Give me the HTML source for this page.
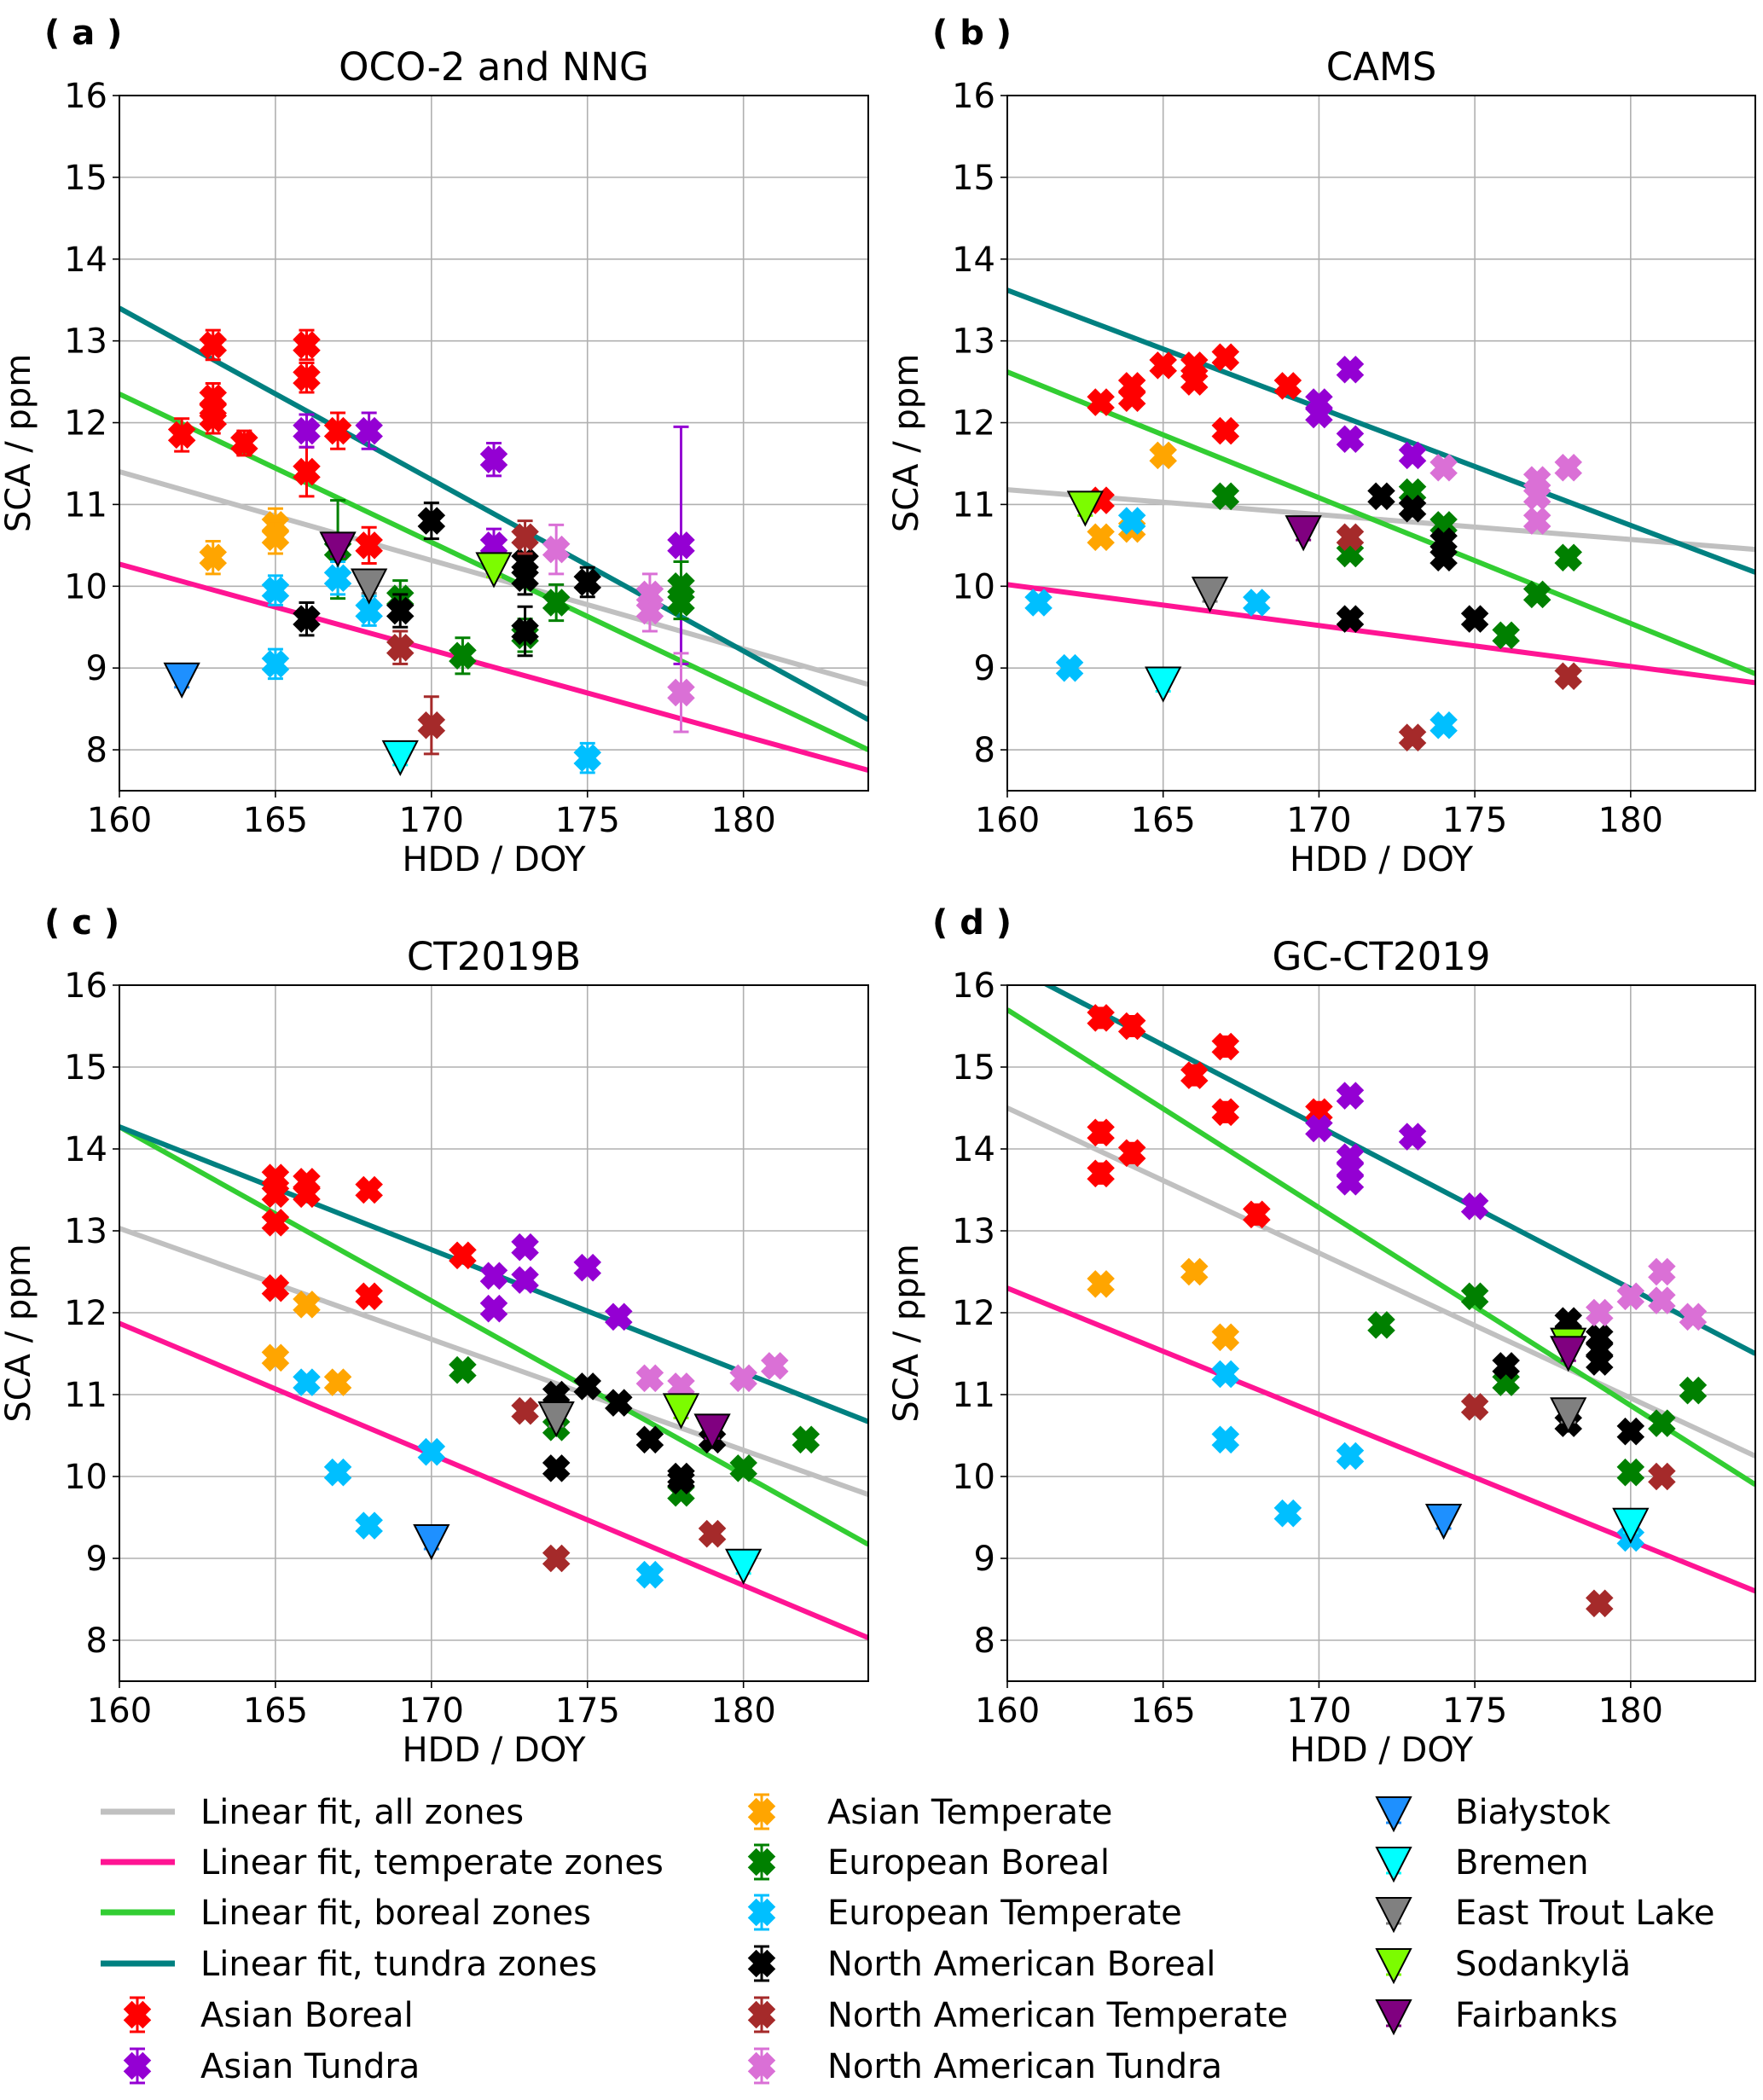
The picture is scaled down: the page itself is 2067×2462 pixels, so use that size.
<!DOCTYPE html>
<html><head><meta charset="utf-8"><style>
html,body{margin:0;padding:0;background:#fff}
svg{display:block;font-family:"DejaVu Sans","Liberation Sans",sans-serif}
</style></head><body>
<svg id="fig" width="2067" height="2462" viewBox="0 0 2067 2462" xmlns="http://www.w3.org/2000/svg"></svg>
<script>
// ---------- data ----------
const seriesNames = ["Asian Boreal","Asian Tundra","Asian Temperate","European Boreal","European Temperate","North American Boreal","North American Temperate","North American Tundra"];
const seriesColors = ["#ff0000","#9400d3","#ffa500","#008000","#00bfff","#000000","#a52a2a","#da70d6"];
const siteNames = ["Białystok","Bremen","East Trout Lake","Sodankylä","Fairbanks"];
const siteColors = ["#1e90ff","#00ffff","#808080","#7cfc00","#800080"];
const fitNames = ["Linear fit, all zones","Linear fit, temperate zones","Linear fit, boreal zones","Linear fit, tundra zones"];
const fitColors = ["#c0c0c0","#ff1493","#32cd32","#008080"];
const xTicks = [160,165,170,175,180];
const yTicks = [8,9,10,11,12,13,14,15,16];
const panelTitles = ["OCO-2 and NNG","CAMS","CT2019B","GC-CT2019"];
const panelLetters = ["( a )","( b )","( c )","( d )"];

const aPts = [
 [[162,11.85],[163,12.95],[163,12.3],[163,12.15],[163,12.05],[164,11.75],[166,12.95],[166,12.55],[166,11.4],[167,11.9],[168,10.5]],
 [[166,11.9],[168,11.9],[172,11.55],[172,10.5],[178,10.5]],
 [[163,10.35],[165,10.75],[165,10.6]],
 [[167,10.45],[169,9.85],[171,9.15],[173,9.4],[174,9.8],[178,10.0],[178,9.8]],
 [[165,9.95],[165,9.05],[167,10.1],[168,9.7],[175,7.9]],
 [[166,9.6],[169,9.7],[170,10.8],[173,10.3],[173,10.1],[173,9.45],[175,10.05]],
 [[169,9.25],[170,8.3],[173,10.6]],
 [[174,10.45],[177,9.9],[177,9.7],[178,8.7]]
];
const aErr = [
 [0.2,0.18,0.18,0.18,0.18,0.15,0.18,0.18,0.3,0.22,0.22],
 [0.2,0.22,0.2,0.2,1.45],
 [0.2,0.2,0.2],
 [0.6,0.22,0.22,0.2,0.22,0.3,0.2],
 [0.18,0.18,0.2,0.18,0.18],
 [0.2,0.2,0.22,0.2,0.2,0.3,0.18],
 [0.2,0.35,0.2],
 [0.3,0.25,0.25,0.48]
];
const aSites = [[162,8.9],[169,7.95],[168,10.05],[172,10.25],[167,10.5]];
const aFits = [[11.4,8.8],[10.27,7.75],[12.35,8.0],[13.4,8.37]];

const bPts = [
 [[163,12.25],[163,11.05],[164,12.45],[164,12.3],[165,12.7],[166,12.7],[166,12.5],[167,12.8],[167,11.9],[169,12.45]],
 [[171,12.65],[170,12.25],[170,12.1],[171,11.8],[173,11.6]],
 [[165,11.6],[163,10.6],[164,10.7]],
 [[167,11.1],[173,11.15],[174,10.75],[171,10.4],[177,9.9],[176,9.4],[178,10.35]],
 [[161,9.8],[162,9.0],[164,10.8],[168,9.8],[174,8.3]],
 [[172,11.1],[173,10.95],[174,10.55],[174,10.35],[171,9.6],[175,9.6]],
 [[171,10.6],[173,8.15],[178,8.9]],
 [[174,11.45],[177,11.3],[177,11.1],[177,10.8],[178,11.45]]
];
const bSites = [null,[165,8.85],[166.5,9.95],[162.5,11.0],[169.5,10.7]];
const bFits = [[11.18,10.45],[10.02,8.82],[12.62,8.93],[13.62,10.17]];

const cPts = [
 [[165,13.65],[165,13.45],[165,13.1],[165,12.3],[166,13.6],[166,13.45],[168,13.5],[168,12.2],[171,12.7]],
 [[173,12.8],[173,12.4],[172,12.45],[172,12.05],[175,12.55],[176,11.95]],
 [[166,12.1],[165,11.45],[167,11.15]],
 [[171,11.3],[174,10.6],[178,9.8],[180,10.1],[182,10.45]],
 [[166,11.15],[167,10.05],[168,9.4],[170,10.3],[177,8.8]],
 [[174,11.0],[174,10.1],[175,11.1],[176,10.9],[177,10.45],[178,10.0],[178,9.95],[179,10.45]],
 [[173,10.8],[174,9.0],[179,9.3]],
 [[177,11.2],[178,11.1],[180,11.2],[181,11.35]]
];
const cSites = [[170,9.25],[180,8.95],[174,10.75],[178,10.85],[179,10.6]];
const cFits = [[13.03,9.78],[11.87,8.03],[14.27,9.17],[14.27,10.67]];

const dPts = [
 [[163,15.6],[164,15.5],[167,15.25],[166,14.9],[167,14.45],[170,14.45],[163,14.2],[163,13.7],[164,13.95],[168,13.2]],
 [[171,14.65],[170,14.25],[173,14.15],[171,13.9],[171,13.75],[171,13.6],[175,13.3]],
 [[163,12.35],[166,12.5],[167,11.7]],
 [[175,12.2],[172,11.85],[176,11.15],[181,10.65],[182,11.05],[180,10.05]],
 [[167,11.25],[167,10.45],[171,10.25],[169,9.55],[180,9.25]],
 [[178,11.9],[178,11.75],[179,11.7],[179,11.55],[179,11.4],[176,11.35],[180,10.55],[178,10.65]],
 [[175,10.85],[181,10.0],[179,8.45]],
 [[180,12.2],[181,12.5],[181,12.15],[179,12.0],[182,11.95]]
];
const dSites = [[174,9.5],[180,9.45],[178,10.8],[178,11.65],[178,11.55]];
const dFits = [[14.5,10.25],[12.3,8.6],[15.7,9.9],[16.26,11.5]];

// ---------- drawing ----------
const NS="http://www.w3.org/2000/svg";
const svg=document.getElementById('fig');
function mk(tag,attrs,parent){const e=document.createElementNS(NS,tag);for(const k in attrs)e.setAttribute(k,attrs[k]);(parent||svg).appendChild(e);return e;}

const panels=[
 {L:140,T:112,R:1018,B:927,pts:aPts,err:aErr,sites:aSites,fits:aFits},
 {L:1181,T:112,R:2058,B:927,pts:bPts,err:null,sites:bSites,fits:bFits},
 {L:140,T:1155,R:1018,B:1971,pts:cPts,err:null,sites:cSites,fits:cFits},
 {L:1181,T:1155,R:2058,B:1971,pts:dPts,err:null,sites:dSites,fits:dFits}
];
const XMIN=160,XMAX=184,YMIN=7.5,YMAX=16;

function xMarker(g,cx,cy,color,s){
  const w=7, a=s;
  const grp=mk('g',{transform:`translate(${cx},${cy}) rotate(45)`},g);
  mk('rect',{x:-a,y:-w,width:2*a,height:2*w,fill:color},grp);
  mk('rect',{x:-w,y:-a,width:2*w,height:2*a,fill:color},grp);
  return grp;
}
function errBar(g,x,y1,y2,color){
  mk('line',{x1:x,y1:y1,x2:x,y2:y2,stroke:color,'stroke-width':3},g);
  mk('line',{x1:x-9,y1:y1,x2:x+9,y2:y1,stroke:color,'stroke-width':3},g);
  mk('line',{x1:x-9,y1:y2,x2:x+9,y2:y2,stroke:color,'stroke-width':3},g);
}
function tri(g,cx,cy,color){
  const h=20;
  return mk('polygon',{points:`${cx-20},${cy-h*0.75} ${cx+20},${cy-h*0.75} ${cx},${cy+h*1.2}`,fill:color,stroke:'#000','stroke-width':2},g);
}

panels.forEach((p,pi)=>{
  const sx=v=>p.L+(v-XMIN)/(XMAX-XMIN)*(p.R-p.L);
  const sy=v=>p.B-(v-YMIN)/(YMAX-YMIN)*(p.B-p.T);
  const g=mk('g',{});
  
  
  const clipId='clip'+pi;
  const cp=mk('clipPath',{id:clipId},g);mk('rect',{x:p.L,y:p.T,width:p.R-p.L,height:p.B-p.T},cp);
  xTicks.forEach(t=>{mk('line',{x1:sx(t),y1:p.T,x2:sx(t),y2:p.B,stroke:'#b0b0b0','stroke-width':1.6},g);});
  yTicks.forEach(t=>{mk('line',{x1:p.L,y1:sy(t),x2:p.R,y2:sy(t),stroke:'#b0b0b0','stroke-width':1.6},g);});
  xTicks.forEach(t=>{
    mk('line',{x1:sx(t),y1:p.B,x2:sx(t),y2:p.B+8,stroke:'#000','stroke-width':1.6},g);
    const tx=mk('text',{x:sx(t),y:p.B+48,'font-size':40,'text-anchor':'middle'},g);tx.textContent=t;
    
    
  });
  yTicks.forEach(t=>{
    mk('line',{x1:p.L-8,y1:sy(t),x2:p.L,y2:sy(t),stroke:'#000','stroke-width':1.6},g);
    const tx=mk('text',{x:p.L-14,y:sy(t)+14,'font-size':40,'text-anchor':'end'},g);tx.textContent=t;
    
    
  });
  const plot=mk('g',{'clip-path':`url(#${clipId})`},g);
  p.fits.forEach((f,fi)=>{
    const ln=mk('line',{x1:sx(XMIN),y1:sy(f[0]),x2:sx(XMAX),y2:sy(f[1]),stroke:fitColors[fi],'stroke-width':6},plot);
    
    
  });
  p.pts.forEach((arr,si)=>{
    arr.forEach((pt,k)=>{
      const cx=sx(pt[0]),cy=sy(pt[1]);
      const e=p.err?p.err[si][k]:(pi===3&&si===0?0.12:0.04);
      errBar(plot,cx,sy(pt[1]+e),sy(pt[1]-e),seriesColors[si]);
      const m=xMarker(plot,cx,cy,seriesColors[si],16);
      
      
    });
  });
  p.sites.forEach((s,si)=>{
    if(!s)return;
    const cx=sx(s[0]),cy=sy(s[1]);
    mk('line',{x1:cx-9,y1:cy+13,x2:cx+9,y2:cy+13,stroke:siteColors[si],'stroke-width':3},plot);
    const t=tri(plot,cx,cy,siteColors[si]);
    
    
  });
  mk('rect',{x:p.L,y:p.T,width:p.R-p.L,height:p.B-p.T,fill:'none',stroke:'#000','stroke-width':2},g);
  const ti=mk('text',{x:(p.L+p.R)/2,y:p.T-18,'font-size':45,'text-anchor':'middle'},g);ti.textContent=panelTitles[pi];
  
  
  const le=mk('text',{x:p.L-88,y:p.T-60,'font-size':40,'font-weight':'bold'},g);le.textContent=panelLetters[pi];
  
  
  const xl=mk('text',{x:(p.L+p.R)/2,y:p.B+94,'font-size':40,'text-anchor':'middle'},g);xl.textContent='HDD / DOY';
  
  
  const yx=p.L-105, yy=(p.T+p.B)/2;
  const yl=mk('text',{x:yx,y:yy,'font-size':40,'text-anchor':'middle',transform:`rotate(-90 ${yx} ${yy})`},g);yl.textContent='SCA / ppm';
  
  
});

// ---------- legend ----------
const lg=mk('g',{});


const rowY=[2124,2183,2242,2302,2362,2422];
fitNames.forEach((n,i)=>{
  mk('line',{x1:118,y1:rowY[i],x2:205,y2:rowY[i],stroke:fitColors[i],'stroke-width':7},lg);
  const t=mk('text',{x:235,y:rowY[i]+14,'font-size':40},lg);t.textContent=n;
  
  
});
function legMarker(x,y,c){errBar(lg,x,y-20,y+20,c);xMarker(lg,x,y,c,16);}
legMarker(161,rowY[4],seriesColors[0]);
let t1=mk('text',{x:235,y:rowY[4]+14,'font-size':40},lg);t1.textContent=seriesNames[0];


legMarker(161,rowY[5],seriesColors[1]);
let t2=mk('text',{x:235,y:rowY[5]+14,'font-size':40},lg);t2.textContent=seriesNames[1];


for(let i=2;i<8;i++){
  const y=rowY[i-2];
  legMarker(893,y,seriesColors[i]);
  const t=mk('text',{x:970,y:y+14,'font-size':40},lg);t.textContent=seriesNames[i];
  
  
}
siteNames.forEach((n,i)=>{
  const y=rowY[i];
  mk('line',{x1:1625,y1:y+13,x2:1643,y2:y+13,stroke:siteColors[i],'stroke-width':3},lg);
  tri(lg,1634,y-2,siteColors[i]);
  const t=mk('text',{x:1706,y:y+14,'font-size':40},lg);t.textContent=n;
  
  
});
</script>
</body></html>
